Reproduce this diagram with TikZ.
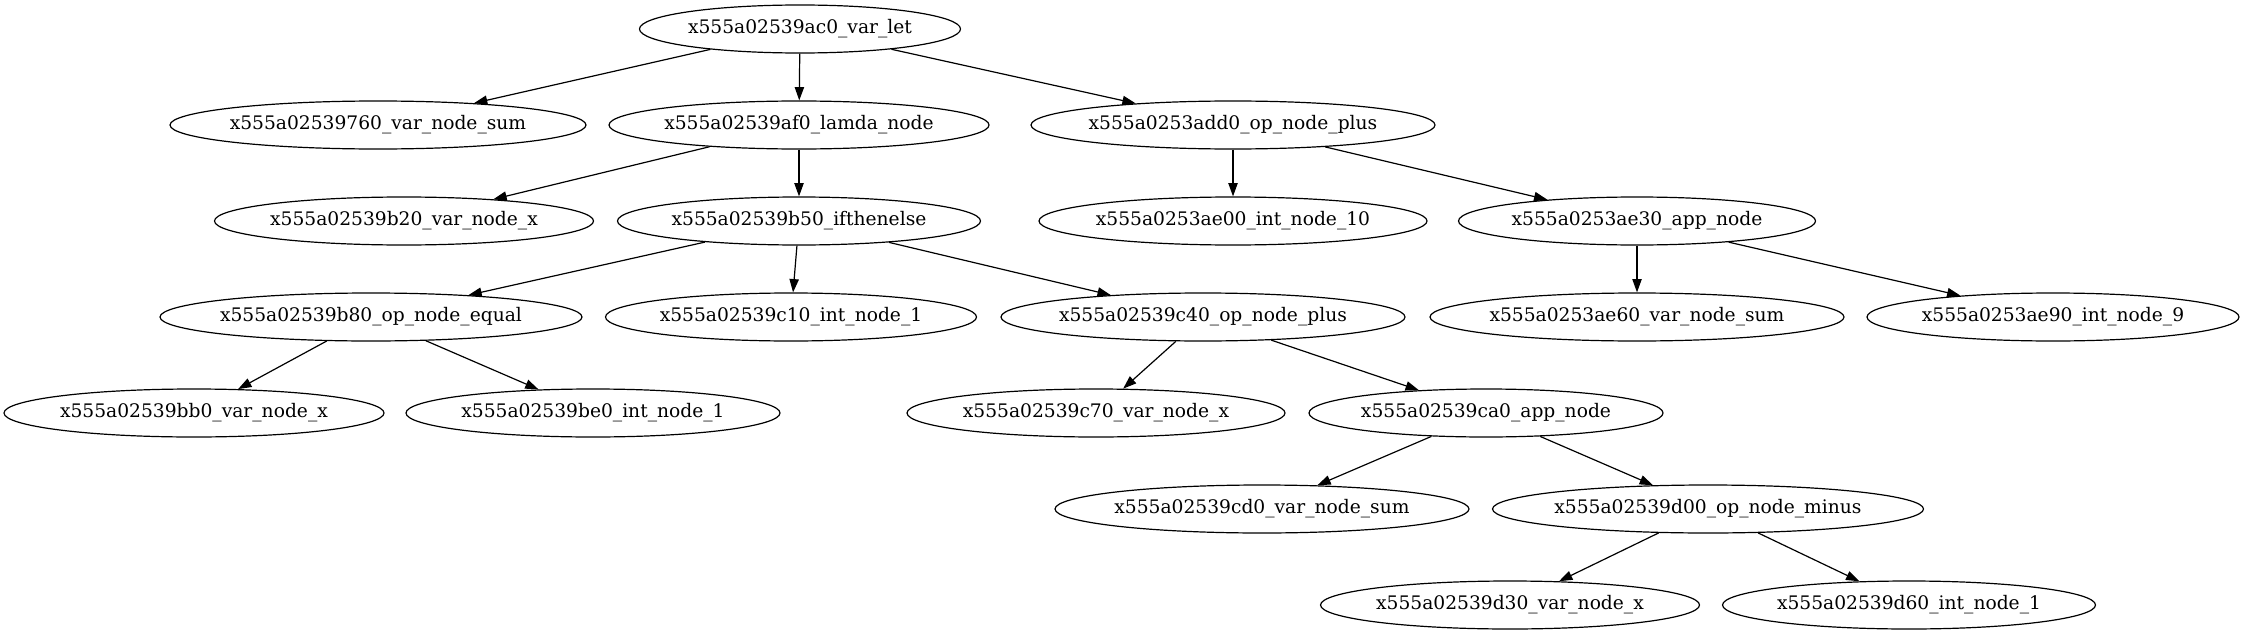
\documentclass[tikz,border=0pt]{standalone}
\usepackage{fontspec}
\setmainfont{DejaVu Serif}
\usetikzlibrary{shapes.geometric,arrows.meta}
\tikzset{
  nd/.style={ellipse, draw, line width=0.9pt, minimum height=36pt, minimum width=#1*0.75pt, inner sep=0pt, font=\fontsize{14pt}{16pt}\selectfont},
  arr/.style={line width=0.9pt, -{Triangle[length=10pt,width=7pt]}, shorten >=0pt}
}
\newcommand{\tx}[1]{\makebox[0pt]{#1}}
\begin{document}
\begin{tikzpicture}[x=0.75pt,y=-0.75pt]
\useasboundingbox (0,0) rectangle (2244,635);
\node[nd=321] (letn) at (800,29) {\tx{x555a02539ac0\_var\_let}};
\node[nd=416] (sum1) at (378,125) {\tx{x555a02539760\_var\_node\_sum}};
\node[nd=380] (lam) at (799,125) {\tx{x555a02539af0\_lamda\_node}};
\node[nd=404] (plus1) at (1233,125) {\tx{x555a0253add0\_op\_node\_plus}};
\node[nd=379] (vx1) at (404,221) {\tx{x555a02539b20\_var\_node\_x}};
\node[nd=363] (ite) at (799,221) {\tx{x555a02539b50\_ifthenelse}};
\node[nd=388] (i10) at (1233,221) {\tx{x555a0253ae00\_int\_node\_10}};
\node[nd=357] (app1) at (1637,221) {\tx{x555a0253ae30\_app\_node}};
\node[nd=422] (eq) at (371,317) {\tx{x555a02539b80\_op\_node\_equal}};
\node[nd=371] (i1a) at (791,317) {\tx{x555a02539c10\_int\_node\_1}};
\node[nd=404] (plus2) at (1203,317) {\tx{x555a02539c40\_op\_node\_plus}};
\node[nd=414] (sum2) at (1637,317) {\tx{x555a0253ae60\_var\_node\_sum}};
\node[nd=372] (i9) at (2053,317) {\tx{x555a0253ae90\_int\_node\_9}};
\node[nd=380] (vx2) at (194,413) {\tx{x555a02539bb0\_var\_node\_x}};
\node[nd=374] (i1b) at (593,413) {\tx{x555a02539be0\_int\_node\_1}};
\node[nd=378] (vx3) at (1096,413) {\tx{x555a02539c70\_var\_node\_x}};
\node[nd=354] (app2) at (1486,413) {\tx{x555a02539ca0\_app\_node}};
\node[nd=414] (sum3) at (1262,509) {\tx{x555a02539cd0\_var\_node\_sum}};
\node[nd=431] (minus) at (1708,509) {\tx{x555a02539d00\_op\_node\_minus}};
\node[nd=379] (vx4) at (1510,605) {\tx{x555a02539d30\_var\_node\_x}};
\node[nd=373] (i1c) at (1909,605) {\tx{x555a02539d60\_int\_node\_1}};
\draw[arr] (letn) -- (sum1);
\draw[arr] (letn) -- (lam);
\draw[arr] (letn) -- (plus1);
\draw[arr] (lam) -- (vx1);
\draw[arr] (lam) -- (ite);
\draw[arr] (plus1) -- (i10);
\draw[arr] (plus1) -- (app1);
\draw[arr] (ite) -- (eq);
\draw[arr] (ite) -- (i1a);
\draw[arr] (ite) -- (plus2);
\draw[arr] (app1) -- (sum2);
\draw[arr] (app1) -- (i9);
\draw[arr] (eq) -- (vx2);
\draw[arr] (eq) -- (i1b);
\draw[arr] (plus2) -- (vx3);
\draw[arr] (plus2) -- (app2);
\draw[arr] (app2) -- (sum3);
\draw[arr] (app2) -- (minus);
\draw[arr] (minus) -- (vx4);
\draw[arr] (minus) -- (i1c);
\end{tikzpicture}
\end{document}
